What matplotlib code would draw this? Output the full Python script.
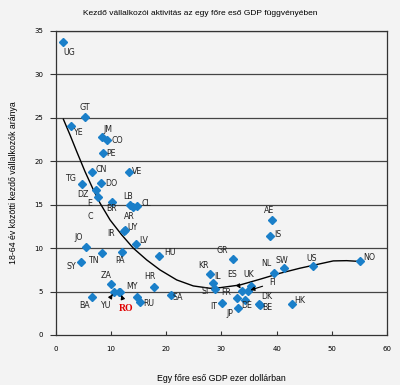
import matplotlib
matplotlib.use("Agg")
import matplotlib.pyplot as plt

# országkódok, egy főre eső GDP (ezer $), kezdő vállalkozók aránya (%)
codes = ["UG", "GT", "YE", "JM", "CO", "PE", "CN", "VE", "TG", "DO",
         "DZ", "E\nC", "BR", "LB", "AR", "CL", "UY", "IR", "JO", "LV",
         "TN", "PA", "HU", "SY", "ZA", "HR", "MY", "RO", "YU", "BA",
         "", "RU", "SA", "KR", "IL", "SI", "GR", "ES", "FI", "UK",
         "FR", "DE", "IT", "JP", "DK", "BE", "NL", "SW", "HK", "US",
         "NO", "AE", "IS"]
gdp = [1.3, 5.3, 2.75, 8.35, 9.26, 8.64, 6.65, 13.35, 4.85, 8.23,
       7.27, 7.63, 10.16, 13.47, 13.96, 14.8, 12.57, 12.4, 5.46, 14.56,
       8.35, 11.97, 18.77, 4.61, 10.04, 17.81, 11.48, 11.7, 10.58, 6.55,
       14.8, 15.28, 20.9, 27.94, 28.43, 28.79, 32.15, 33.73, 34.76, 35.3,
       32.88, 34.27, 30.16, 33.0, 36.8, 37.0, 39.57, 41.37, 42.71, 46.62,
       55.06, 39.15, 38.84]
rate = [33.7, 25.05, 24.05, 22.75, 22.4, 20.9, 18.8, 18.7, 17.4, 17.5,
        16.7, 15.85, 15.3, 14.96, 14.7, 14.84, 12.08, 12.0, 10.16, 10.47,
        9.4, 9.5, 9.09, 8.4, 5.87, 5.52, 4.98, 4.9, 4.95, 4.34,
        4.34, 3.83, 4.64, 6.98, 6.02, 5.33, 8.75, 5.06, 5.06, 5.64,
        4.22, 4.03, 3.68, 3.14, 3.57, 3.45, 7.17, 7.68, 3.57, 7.9,
        8.52, 13.23, 11.43]

# trendgörbe
trend_x = [1.41, 2.62, 3.83, 5.33, 6.84, 8.05, 9.86, 11.97, 14.07, 16.49,
           18.9, 21.92, 24.92, 27.94, 29.75, 33.36, 36.98, 40.6, 44.21,
           50.24, 52.66, 54.47]
trend_y = [24.82, 23.0, 21.09, 18.79, 16.69, 15.16, 13.23, 11.51, 9.98, 8.63,
           7.48, 6.33, 5.64, 5.37, 5.44, 5.75, 6.41, 7.1, 7.68,
           8.52, 8.55, 8.48]

# címke-eltolások pixelben (x jobbra, y felfelé)
offsets = {
    "UG": (6, -10), "GT": (0, 10), "YE": (7, -7), "JM": (6, 8), "CO": (11, 0),
    "PE": (8, 0), "CN": (9, 2), "VE": (8, 1), "TG": (-12, 5), "DO": (10, -1),
    "DZ": (-13, -5), "E\nC": (-8, -13), "BR": (0, -7), "LB": (-2, 8),
    "AR": (-3, -9), "CL": (9, 2), "UY": (7, 2), "IR": (-13, -3), "JO": (-7, 9),
    "LV": (8, 3), "TN": (-8, -7), "PA": (-2, -8), "HU": (11, 3), "SY": (-10, -5),
    "ZA": (-5, 8), "HR": (-4, 10), "MY": (13, 5), "RO": (6, -16), "YU": (-9, -14),
    "BA": (-7, -8), "RU": (9, -2), "SA": (7, -3), "KR": (-7, 9), "IL": (5, 6),
    "SI": (-10, -3), "GR": (-11, 8), "ES": (-10, 16), "FI": (25, 8), "UK": (-2, 11),
    "FR": (-11, 6), "DE": (2, -6), "IT": (-9, -4), "JP": (-8, -6), "DK": (8, 7),
    "BE": (7, -3), "NL": (-8, 9), "SW": (-2, 8), "HK": (8, 3), "US": (-2, 8),
    "NO": (9, 3), "AE": (-3, 9), "IS": (8, 1),
}
arrows = ["YU", "RO", "ES", "FI"]

bg = "#f3f3f3"
narrow = ["Liberation Sans Narrow", "DejaVu Sans"]

fig = plt.figure(figsize=(4, 3.85), dpi=100, facecolor=bg)
ax = fig.add_axes([0.139, 0.130, 0.829, 0.790], facecolor=bg)

for yy in range(5, 36, 5):
    ax.axhline(yy, color="#444444", lw=0.9, zorder=1)

ax.plot(trend_x, trend_y, color="black", lw=1.0, zorder=2)
ax.plot(gdp, rate, linestyle="none", marker="D", ms=3.8,
        color="#1a7fc9", zorder=3)

for code, x, y in zip(codes, gdp, rate):
    if not code:
        continue
    dx, dy = offsets[code]
    if code == "RO":
        kw = dict(color="#e00000", fontsize=7, fontweight="bold",
                  family="Liberation Serif")
    else:
        kw = dict(color="#222222", fontsize=5.7, family=narrow,
                  linespacing=1.5)
    if code in arrows:
        ax.annotate(code, (x, y), xytext=(dx, dy), textcoords="offset pixels",
                    ha="center", va="center", zorder=4,
                    arrowprops=dict(arrowstyle="-|>", color="black", lw=0.8,
                                    mutation_scale=6, shrinkA=3, shrinkB=2),
                    **kw)
    else:
        ax.annotate(code, (x, y), xytext=(dx, dy), textcoords="offset pixels",
                    ha="center", va="center", zorder=4, **kw)

ax.set_xlim(0, 60)
ax.set_ylim(0, 35)
ax.set_xticks(range(0, 61, 10))
ax.set_yticks(range(0, 36, 5))
for s in ax.spines.values():
    s.set_color("#333333")
    s.set_linewidth(0.9)
ax.tick_params(axis="x", direction="in", length=3, labelsize=5, pad=8,
               color="#333333")
ax.tick_params(axis="y", direction="out", length=4, labelsize=5, pad=5,
               color="#333333")
for lab in ax.get_xticklabels() + ax.get_yticklabels():
    lab.set_family(narrow)

ax.set_xlabel("Egy főre eső GDP ezer dollárban", fontsize=6.3,
              family="Liberation Sans", labelpad=16)
ax.set_ylabel("18-64 év közötti kezdő vállalkozók aránya", fontsize=6.3,
              family="Liberation Sans", labelpad=11.5)
fig.text(0.5, 0.966, "Kezdő vállalkozói aktivitás az egy főre eső GDP függvényében",
         ha="center", va="center", fontsize=6, family="Liberation Sans")

fig.savefig("out.png", dpi=100, facecolor=bg)
